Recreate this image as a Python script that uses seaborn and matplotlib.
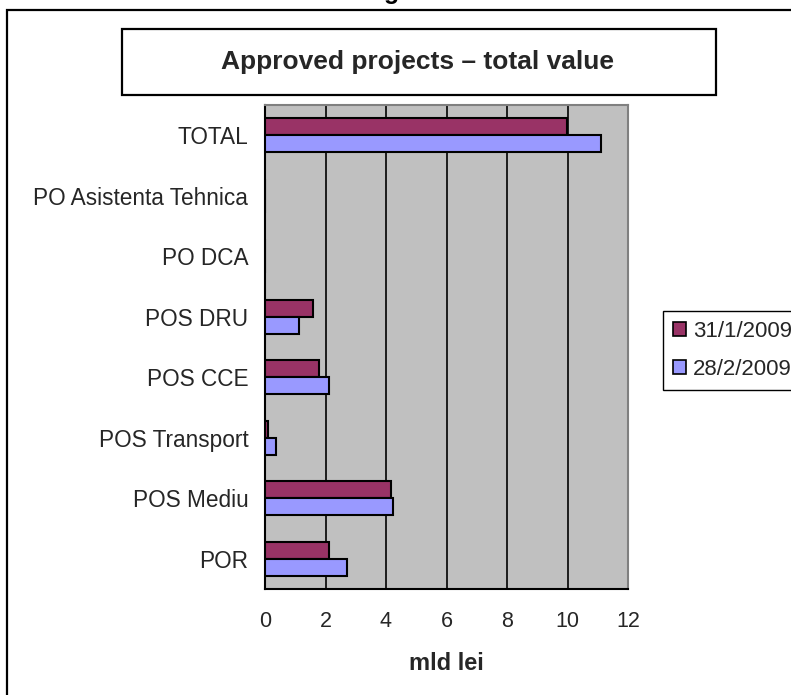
import matplotlib
matplotlib.use("Agg")
import matplotlib.pyplot as plt
from matplotlib.patches import Rectangle, Patch
import seaborn as sns
import pandas as pd
import numpy as np

categories = ["TOTAL", "PO Asistenta Tehnica", "PO DCA", "POS DRU", "POS CCE",
              "POS Transport", "POS Mediu", "POR"]
series_names = ["31/1/2009", "28/2/2009"]
values_jan = [9.97, 0.0, 0.0, 1.6, 1.77, 0.1, 4.18, 2.12]
values_feb = [11.12, 0.0, 0.0, 1.13, 2.12, 0.35, 4.24, 2.7]
x_ticks = [0, 2, 4, 6, 8, 10, 12]
title_text = "Approved projects \u2013 total value"
x_label = "mld lei"

colors = ["#993366", "#9999FF"]

df = pd.DataFrame({
    "category": categories * 2,
    "series": [series_names[0]] * len(categories) + [series_names[1]] * len(categories),
    "value": values_jan + values_feb,
})

sns.set_style("white")
plt.rcParams["font.family"] = ["Liberation Sans", "DejaVu Sans"]

W, H = 791, 695
dpi = 100
fig = plt.figure(figsize=(W / dpi, H / dpi), dpi=dpi)
fig.patch.set_facecolor("white")

def fx(px):
    return px / W

def fy(py):
    return 1 - py / H

# outer chart frame (extends beyond image right/bottom)
fig.patches.append(Rectangle((fx(7), fy(760)), fx(900) - fx(7), fy(10) - fy(760),
                             transform=fig.transFigure, fill=False,
                             edgecolor="black", linewidth=1.6, zorder=0))

# cut-off text at very top
fig.text(fx(392), fy(-1), "g", ha="center", va="baseline", fontsize=18,
         fontweight="bold", color="black")

# title box
fig.patches.append(Rectangle((fx(122), fy(95)), fx(716) - fx(122), fy(29) - fy(95),
                             transform=fig.transFigure, fill=False,
                             edgecolor="black", linewidth=1.6, zorder=1))
fig.text(fx(418), fy(62), title_text, ha="center", va="center",
         fontsize=19, fontweight="bold")

ax = fig.add_axes([fx(265), fy(589), fx(628) - fx(265), fy(105) - fy(589)])
ax.set_facecolor("#C0C0C0")

sns.barplot(data=df, y="category", x="value", hue="series", order=categories,
            hue_order=series_names, palette=colors, orient="h", width=0.56,
            gap=0, edgecolor="black", linewidth=1.5, saturation=1,
            legend=False, ax=ax, zorder=3)

ax.set_xlim(0, 12)
ax.set_ylim(len(categories) - 0.5, -0.5)
ax.set_xticks(x_ticks)
ax.set_xticklabels([str(t) for t in x_ticks], fontsize=15.5)
ax.grid(axis="x", color="black", linewidth=1.2, zorder=1)
ax.grid(axis="y", visible=False)
ax.set_axisbelow(True)

ax.set_yticks(np.arange(len(categories)))
ax.set_yticklabels(categories, fontsize=16.3)
ax.tick_params(axis="y", which="major", length=0, pad=12)
ax.set_yticks(np.arange(len(categories) + 1) - 0.5, minor=True)
ax.tick_params(axis="y", which="minor", length=6, width=1.2, color="#444444",
               direction="out")
ax.tick_params(axis="x", which="major", length=6, width=1.2, color="#444444",
               direction="out", pad=10)

ax.set_ylabel("")
ax.set_xlabel(x_label, fontsize=17, fontweight="bold", labelpad=14)

for side in ["top", "right"]:
    ax.spines[side].set_color("#808080")
    ax.spines[side].set_linewidth(1.5)
for side in ["left", "bottom"]:
    ax.spines[side].set_color("black")
    ax.spines[side].set_linewidth(1.5)
    ax.spines[side].set_visible(True)

handles = [Patch(facecolor=c, edgecolor="black", linewidth=1.2) for c in colors]
leg = fig.legend(handles, series_names, loc="upper left",
                 bbox_to_anchor=(fx(663), fy(311)), fontsize=16,
                 handlelength=0.6, handleheight=0.6, handletextpad=0.3,
                 labelspacing=0.75, borderpad=0.45, borderaxespad=0,
                 frameon=True, fancybox=False, framealpha=1)
leg.get_frame().set_edgecolor("black")
leg.get_frame().set_linewidth(1.0)

fig.savefig("out.png", dpi=dpi)
